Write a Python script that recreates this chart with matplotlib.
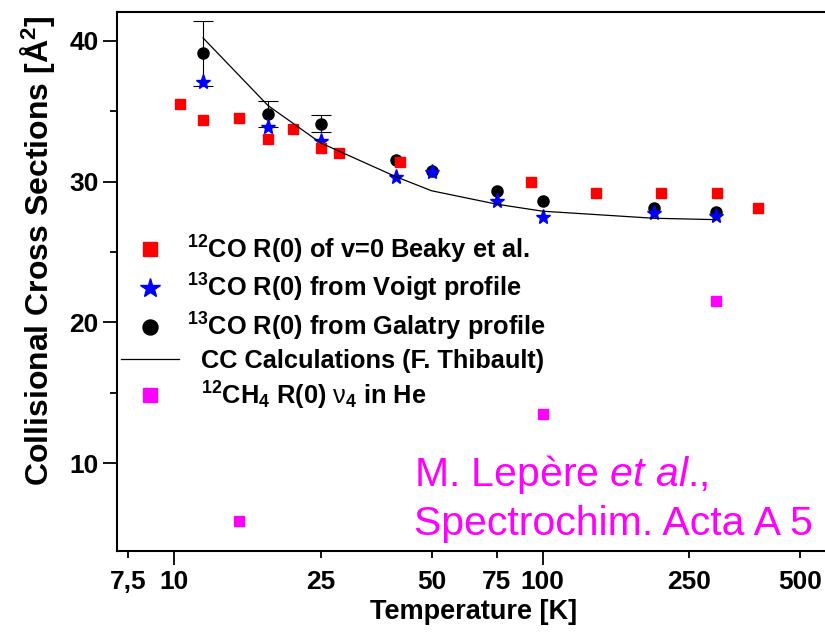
import matplotlib
matplotlib.use("Agg")
import matplotlib.pyplot as plt
from matplotlib.ticker import FixedLocator, FixedFormatter

plt.rcParams['font.family'] = ['Liberation Sans', 'DejaVu Sans']
plt.rcParams['font.weight'] = 'bold'
plt.rcParams['mathtext.fontset'] = 'custom'
plt.rcParams['mathtext.rm'] = 'Liberation Sans:weight=normal'
plt.rcParams['mathtext.bf'] = 'Liberation Sans:weight=bold'
plt.rcParams['mathtext.it'] = 'Liberation Sans:style=italic:weight=normal'

# 12CO R(0), Beaky et al.
t_beaky = [10.4, 12, 15, 18, 21, 25, 28, 41, 93, 140, 210, 298, 383]
sig_beaky = [35.5, 34.4, 34.5, 33.0, 33.7, 32.4, 32.05, 31.4, 29.95, 29.2, 29.2, 29.2, 28.1]

# 13CO R(0), this work
t_13co = [12, 18, 25, 40, 50, 75, 100, 200, 296]
sig_voigt = [37.1, 33.9, 32.9, 30.3, 30.7, 28.6, 27.5, 27.75, 27.55]
sig_galatry = [39.1, 34.8, 34.1, 31.5, 30.75, 29.35, 28.65, 28.1, 27.85]
err_galatry = [2.3, 0.9, 0.6, 0, 0, 0, 0, 0, 0]

# close-coupling calculations
t_cc = [12, 18, 25, 40, 50, 75, 100, 200, 296]
sig_cc = [40.2, 35.4, 32.75, 30.35, 29.35, 28.4, 27.9, 27.4, 27.3]

# 12CH4 R(0) nu4 in He
t_ch4 = [15, 100, 296]
sig_ch4 = [5.9, 13.5, 21.5]

major_ticks = [10, 100]
major_labels = ['10', '100']
minor_ticks = [7.5, 25, 50, 75, 250, 500]
minor_labels = ['7,5', '25', '50', '75', '250', '500']

fig = plt.figure(figsize=(8.25, 6.35), dpi=100)
ax = fig.add_axes([0.1415, 0.1323, 0.864, 0.8488])

# error bars only where they stick out of the markers
idx = [i for i, e in enumerate(err_galatry) if e > 0]
ax.errorbar([t_13co[i] for i in idx], [sig_galatry[i] for i in idx],
            yerr=[err_galatry[i] for i in idx], fmt='none', ecolor='black',
            elinewidth=0.8, capsize=7.5, capthick=0.8, zorder=1.5)
h_gal, = ax.plot(t_13co, sig_galatry, 'o', color='black', ms=8, zorder=2)
h_voigt, = ax.plot(t_13co, sig_voigt, '*', color='#0000ff', ms=11, zorder=3)
h_beaky, = ax.plot(t_beaky, sig_beaky, 's', color='#ff0000', ms=7.5, zorder=4)
h_cc, = ax.plot(t_cc, sig_cc, '-', color='black', lw=0.9, zorder=5)
h_ch4, = ax.plot(t_ch4, sig_ch4, 's', color='#ff00ff', ms=7, zorder=6)

ax.set_xscale('log')
ax.set_xlim(7.0, 600)
ax.set_ylim(3.78, 42.04)

ax.xaxis.set_major_locator(FixedLocator(major_ticks))
ax.xaxis.set_major_formatter(FixedFormatter(major_labels))
ax.xaxis.set_minor_locator(FixedLocator(minor_ticks))
ax.xaxis.set_minor_formatter(FixedFormatter(minor_labels))
ax.set_yticks([10, 20, 30, 40])
ax.set_yticks([15, 25, 35], minor=True)

ax.tick_params(axis='both', which='major', length=10, width=1.3, direction='out')
ax.tick_params(axis='both', which='minor', length=5, width=1.3, direction='out')
ax.tick_params(axis='x', which='major', labelsize=19, pad=4)
ax.tick_params(axis='x', which='minor', labelsize=19, pad=9)
ax.tick_params(axis='y', which='major', labelsize=19, pad=3)
ax.tick_params(axis='y', which='minor', labelleft=False)

for side in ['left', 'bottom', 'top']:
    ax.spines[side].set_linewidth(1.5)
ax.spines['right'].set_visible(False)

ax.set_xlabel('Temperature [K]', fontsize=19.5, fontweight='bold', labelpad=3)
ax.set_ylabel(r'Collisional Cross Sections [Å$^{\mathbf{2}}$]', fontsize=23,
              fontweight='bold')
ax.yaxis.set_label_coords(-0.084, 0.558)

ax.legend([h_beaky, h_voigt, h_gal, h_cc, h_ch4],
          [r'$^{\mathbf{12}}$CO R(0) of v=0 Beaky et al.',
           r'$^{\mathbf{13}}$CO R(0) from Voigt profile',
           r'$^{\mathbf{13}}$CO R(0) from Galatry profile',
           '  CC Calculations (F. Thibault)',
           r'  $^{\mathbf{12}}$CH$_{\mathbf{4}}$ R(0) $\mathrm{\nu}_{\mathbf{4}}$ in He'],
          loc='upper left', bbox_to_anchor=(0.006, 0.589), frameon=False,
          fontsize=18.3, markerscale=1.35, handlelength=2.3, handletextpad=0.3,
          labelspacing=0.25, borderpad=0, borderaxespad=0, numpoints=1)

fig.text(414 / 825, 1 - 486 / 635, r'M. Lepère $\mathit{et\ al}$.,', color='#ff00ff',
         fontsize=29.5, fontweight='normal', va='baseline', ha='left')
fig.text(414 / 825, 1 - 535 / 635, 'Spectrochim. Acta A 5', color='#ff00ff',
         fontsize=29.5, fontweight='normal', va='baseline', ha='left')

fig.savefig('out.png', dpi=100)
